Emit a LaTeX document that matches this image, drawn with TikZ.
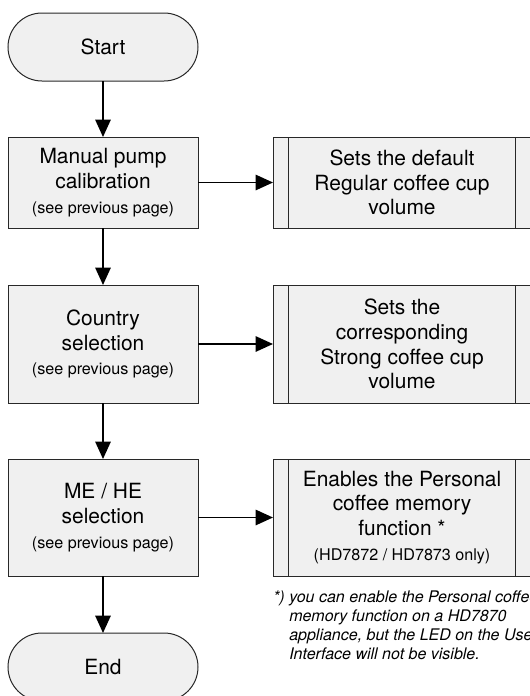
\documentclass[tikz,border=0pt]{standalone}
\usepackage{fontspec}
\setmainfont{TeX Gyre Heros}
\usetikzlibrary{arrows.meta}
\usetikzlibrary{calc}

\tikzset{
  flowbox/.style={draw={rgb, 255:red, 40; green, 40; blue, 40 }, fill={rgb, 255:red, 240; green, 240; blue, 240 }, line width=0.75pt, inner sep=0pt, outer sep=0pt, align=center, font=\fontsize{15.7}{18.6}\selectfont},
  terminator/.style={flowbox, rounded corners=25.5pt, minimum width=142.5pt, minimum height=51pt},
  process/.style={flowbox, minimum width=142.5pt},
  predefined/.style={flowbox, minimum width=193.5pt},
  flowarrow/.style={line width=1.3pt, -{Triangle[width=11.5pt,length=13pt]}},
  footnote/.style={inner sep=0pt, align=left, font=\fontsize{12}{14.1}\selectfont\itshape},
}
\newcommand{\seepage}{{\fontsize{12.1}{18.6}\selectfont (see previous page)}}

\begin{document}
\begin{tikzpicture}[x=0.75pt,y=0.75pt,yscale=-1,xscale=1]
\useasboundingbox (0,0) rectangle (530,696);
\clip (0,0) rectangle (530,696);

%Flowchart: Terminator
\node[terminator] (start) at (103,47) {Start};
%Flowchart: Process
\node[process, minimum height=68.25pt] (pump) at (103,182.5) {Manual pump\\calibration\\\seepage};
%Flowchart: Process
\node[process, minimum height=88.5pt] (country) at (103,344) {Country\\selection\\\seepage};
%Flowchart: Process
\node[process, minimum height=87.75pt] (mehe) at (103,517.5) {ME / HE\\selection\\\seepage};
%Flowchart: Terminator
\node[terminator] (end) at (103,667) {End};

%Flowchart: Predefined Process
\node[predefined, minimum height=68.25pt] (regular) at (402,182.5) {Sets the default\\Regular coffee cup\\volume};
%Flowchart: Predefined Process
\node[predefined, minimum height=88.5pt] (strong) at (402,344) {Sets the\\corresponding\\Strong coffee cup\\volume};
%Flowchart: Predefined Process
\node[predefined, minimum height=87.75pt] (personal) at (402,517.5) {Enables the Personal\\coffee memory\\function *\\{\fontsize{12.1}{18.6}\selectfont (HD7872 / HD7873 only)}};

\foreach \b in {regular,strong,personal} {
  \draw[draw={rgb, 255:red, 40; green, 40; blue, 40 }, line width=0.75pt] ($(\b.north west)+(15.5,0)$) -- ($(\b.south west)+(15.5,0)$);
  \draw[draw={rgb, 255:red, 40; green, 40; blue, 40 }, line width=0.75pt] ($(\b.north east)+(-15.5,0)$) -- ($(\b.south east)+(-15.5,0)$);
}

%Straight Lines
\draw[flowarrow] (start) -- (pump);
\draw[flowarrow] (pump) -- (country);
\draw[flowarrow] (country) -- (mehe);
\draw[flowarrow] (mehe) -- (end);
\draw[flowarrow] (pump) -- (regular);
\draw[flowarrow] (country) -- (strong);
\draw[flowarrow] (mehe) -- (personal);

% Text Node
\node[footnote, anchor=north west] (note) at (273,591) {*) you can enable the Personal coffee\\
\phantom{*) }memory function on a HD7870\\
\phantom{*) }appliance, but the LED on the User\\
\phantom{*) }Interface will not be visible.};

\end{tikzpicture}
\end{document}
